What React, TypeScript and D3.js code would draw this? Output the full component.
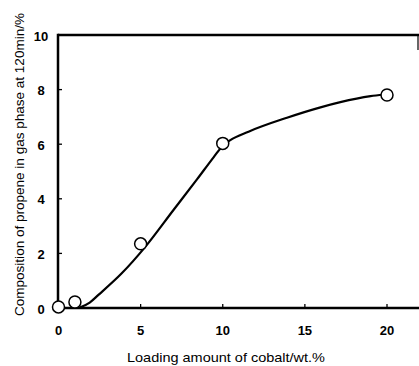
import React from "react";
import * as d3 from "d3";

const loading = [0, 1, 5, 10, 20];
const propene = [0.04, 0.22, 2.35, 6.03, 7.8];

const curveX = [1.3, 1.9, 2.43, 3.85, 5.27, 7.0, 8.43, 9.44, 9.95, 10.46, 11.57, 13.91, 15.95, 17.16, 19.0, 19.8];
const curveY = [0.02, 0.2, 0.48, 1.27, 2.23, 3.59, 4.71, 5.52, 5.91, 6.15, 6.46, 6.97, 7.35, 7.54, 7.76, 7.82];

const xTicks = [0, 5, 10, 15, 20];
const yTicks = [0, 2, 4, 6, 8, 10];

const xTitle = "Loading amount of cobalt/wt.%";
const yTitle = "Composition of propene in gas phase at 120min/%";

export default function App() {
  const W = 419, H = 366;
  const x = d3.scaleLinear().domain([0, 20]).range([58.5, 387]);
  const y = d3.scaleLinear().domain([0, 10]).range([308, 35]);
  const left = 58, top = 35, bottom = 308, right = 418;

  const line = d3
    .line<number>()
    .x((_, i) => x(curveX[i]))
    .y((_, i) => y(curveY[i]))
    .curve(d3.curveMonotoneX);

  const tickFont = "'Liberation Sans', Arial, sans-serif";

  return (
    <svg
      width={W}
      height={H}
      style={{ position: "absolute", left: 0, top: 0, background: "#fff" }}
    >
      <rect x={0} y={0} width={W} height={H} fill="#fff" />
      {/* frame */}
      <line x1={left} y1={top} x2={W} y2={top} stroke="#000" strokeWidth={2.5} />
      <line x1={left} y1={top - 1.2} x2={left} y2={bottom + 1.2} stroke="#000" strokeWidth={2.5} />
      <line x1={left} y1={bottom} x2={W} y2={bottom} stroke="#000" strokeWidth={2.5} />
      <line x1={right} y1={top} x2={right} y2={top + 15} stroke="#000" strokeWidth={1.2} />

      {/* y ticks */}
      {yTicks.map((t) => (
        <g key={"y" + t}>
          {t > 0 && t < 10 && (
            <line x1={left} x2={left + 4} y1={y(t)} y2={y(t)} stroke="#000" strokeWidth={1.3} />
          )}
          <text
            x={41}
            y={y(t) + 1}
            textAnchor="middle"
            dominantBaseline="central"
            fontFamily={tickFont}
            fontWeight="bold"
            fontSize={13}
          >
            {t}
          </text>
        </g>
      ))}

      {/* x ticks */}
      {xTicks.map((t) => (
        <g key={"x" + t}>
          {t > 0 && (
            <line x1={x(t)} x2={x(t)} y1={bottom} y2={bottom - 4} stroke="#000" strokeWidth={1.3} />
          )}
          <text
            x={x(t)}
            y={330.5}
            textAnchor="middle"
            dominantBaseline="central"
            fontFamily={tickFont}
            fontWeight="bold"
            fontSize={13}
          >
            {t}
          </text>
        </g>
      ))}

      {/* curve */}
      <path d={line(curveX) || ""} fill="none" stroke="#000" strokeWidth={2.2} />

      {/* points */}
      {loading.map((v, i) => (
        <circle
          key={"p" + i}
          cx={x(v)}
          cy={y(propene[i])}
          r={6}
          fill="#fff"
          stroke="#000"
          strokeWidth={1.5}
        />
      ))}

      {/* titles */}
      <text
        x={226}
        y={362}
        textAnchor="middle"
        fontFamily={tickFont}
        fontSize={13}
        textLength={198}
        lengthAdjust="spacingAndGlyphs"
      >
        {xTitle}
      </text>
      <text
        transform={`translate(24,164.5) rotate(-90)`}
        textAnchor="middle"
        fontFamily={tickFont}
        fontSize={13}
        textLength={303}
        lengthAdjust="spacingAndGlyphs"
      >
        {yTitle}
      </text>
    </svg>
  );
}
